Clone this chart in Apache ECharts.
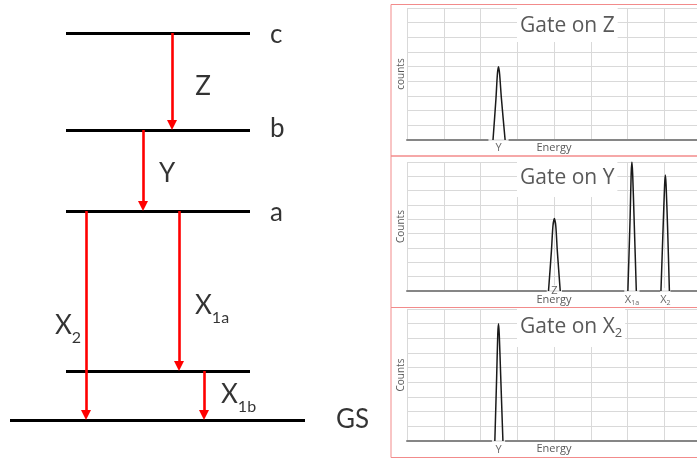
<!DOCTYPE html>
<html><head><meta charset="utf-8">
<script src="https://cdn.jsdelivr.net/npm/echarts@6/dist/echarts.min.js"></script>
<style>html,body{margin:0;padding:0;background:#fff}#c{width:697px;height:459px}</style>
</head><body><div id="c"></div>
<script>
// ---------------- DATA ----------------
// Level scheme (energies in arbitrary units)
const levelNames = ['GS', '', 'a', 'b', 'c'];
const levelEnergies = [0, 49, 209, 290, 387];
// Transitions (from level index -> to level index); name = [main, subscript]
const transitionNames = [['Z', ''], ['Y', ''], ['X', '1a'], ['X', '1b'], ['X', '2']];
const transitionFrom = [4, 3, 2, 1, 2];
const transitionTo = [3, 2, 1, 0, 0];

// Gated spectra
const gateTitles = [['Gate on Z', ''], ['Gate on Y', ''], ['Gate on X', '2']];
const countsNames = ['counts', 'Counts', 'Counts'];
const energyMin = 0, energyMax = 8, energyStep = 1;
const countsMin = 0, countsMax = 9, countsStep = 1;

const gateZ_peakY = [[2.34,0],[2.42,2.8],[2.46,4.5],[2.49,5.0],[2.52,4.5],[2.57,2.8],[2.67,0]];
const gateY_peakZ = [[3.85,0],[3.93,2.8],[3.97,4.5],[4.01,5.05],[4.05,4.5],[4.09,2.8],[4.17,0]];
const gateY_peakX1a = [[6.01,0],[6.07,5],[6.10,8.2],[6.12,9],[6.14,8.2],[6.18,5],[6.24,0]];
const gateY_peakX2 = [[6.91,0],[6.97,4.5],[7.01,7.4],[7.03,8.1],[7.05,7.4],[7.09,4.5],[7.14,0]];
const gateX2_peakY = [[2.39,0],[2.44,4.4],[2.47,7.3],[2.49,8],[2.51,7.3],[2.55,4.4],[2.61,0]];

const gateZ_labels = [['Y', '', 2.49]];
const gateY_labels = [['Z', '', 4.01], ['X', '1a', 6.12], ['X', '2', 7.03]];
const gateX2_labels = [['Y', '', 2.49]];

// ---------------- LAYOUT ----------------
const layout = {
  levelX: [[10, 305], [66, 250], [66, 250], [66, 250], [66, 250]],
  levelLabelX: [336, 0, 270, 270, 270],
  levelLabelDy: [0.4, 0, -1.5, 1, -1.5],
  transitionX: [172, 143, 179, 204, 86],
  transitionLabel: [[203, 87, 'center'], [167, 174, 'center'], [195, 306, 'left'], [221, 395, 'left'], [55, 326, 'left']],
  head: [9, 10],
  spectraGrids: [
    {left: 407, top: 8, width: 294, height: 132},
    {left: 407, top: 162, width: 294, height: 129},
    {left: 407, top: 309, width: 294, height: 132}
  ],
  titleBox: [
    {left: 517, top: 8, padding: [5, 3, 3, 3]},
    {left: 517, top: 162, padding: [3, 3, 6, 3]},
    {left: 517, top: 309, padding: [5, 3, 7, 3]}
  ],
  nameGap: [2, 3.5, 2.5],
  // peak label boxes: [dy, padTop, padSide]
  peakLabelStyle: [
    [[-3, 5, 7]],
    [[-6, 0, 4.5], [-3, 6, 0.5], [-3, 6, 0]],
    [[-3, 6, 3.5]]
  ],
  frames: [[391, 4.5, 320, 151.5], [391, 156, 320, 151.5], [391, 307.5, 320, 150]]
};

const LEFT_FONT = 'Lato';
const RIGHT_FONT = 'Open Sans';
const yPix = v => 420 - v; // left-diagram vertical units == pixels (grid mapped 1:1)
const richText = (main, sub) => '{m|' + main + '}' + (sub ? '{s|' + sub + '}' : '');

// ---------------- OPTION ----------------
const grids = [{left: 0, top: 0, width: 390, height: 459, outerBoundsMode: 'none'}]
  .concat(layout.spectraGrids.map(g => Object.assign({outerBoundsMode: 'none', containLabel: false}, g)));
const xAxes = [{gridIndex: 0, type: 'value', min: 0, max: 390, show: false}];
const yAxes = [{gridIndex: 0, type: 'value', min: -39, max: 420, show: false}];
const series = [];

// Levels
series.push({
  type: 'lines', coordinateSystem: 'cartesian2d', xAxisIndex: 0, yAxisIndex: 0,
  symbol: 'none', lineStyle: {color: '#000', width: 3, opacity: 1}, z: 2, silent: true,
  data: levelEnergies.map((E, i) => ({coords: [[layout.levelX[i][0], E], [layout.levelX[i][1], E]]}))
});
// Transitions
series.push({
  type: 'lines', coordinateSystem: 'cartesian2d', xAxisIndex: 0, yAxisIndex: 0,
  symbol: ['none', 'triangle'], symbolSize: layout.head,
  lineStyle: {color: '#ff0000', width: 2.6, opacity: 1}, z: 3, silent: true,
  data: transitionFrom.map((f, i) => ({coords: [[layout.transitionX[i], levelEnergies[f]], [layout.transitionX[i], levelEnergies[transitionTo[i]] + layout.head[1] / 2]]}))
});
// Level labels
series.push({
  type: 'scatter', xAxisIndex: 0, yAxisIndex: 0, symbolSize: 0, silent: true, z: 4,
  data: levelNames.map((n, i) => ({name: n, value: [layout.levelLabelX[i], levelEnergies[i] + layout.levelLabelDy[i]]})).filter(d => d.name),
  label: {show: true, position: 'inside', align: 'left', verticalAlign: 'middle', formatter: p => p.name,
    fontFamily: LEFT_FONT, fontSize: 26, color: '#000'}
});
// Transition labels
series.push({
  type: 'scatter', xAxisIndex: 0, yAxisIndex: 0, symbolSize: 0, silent: true, z: 4,
  data: transitionNames.map((n, i) => ({name: richText(n[0], n[1]), value: [layout.transitionLabel[i][0], yPix(layout.transitionLabel[i][1])],
    label: {align: layout.transitionLabel[i][2]}})),
  label: {show: true, position: 'inside', verticalAlign: 'middle', formatter: p => p.name,
    rich: {
      m: {fontFamily: LEFT_FONT, fontSize: 26, lineHeight: 40, color: '#000'},
      s: {fontFamily: LEFT_FONT, fontSize: 16, lineHeight: 16, verticalAlign: 'bottom', color: '#000'}
    }}
});

// Spectra
const peaksPerGate = [[gateZ_peakY], [gateY_peakZ, gateY_peakX1a, gateY_peakX2], [gateX2_peakY]];
const labelsPerGate = [gateZ_labels, gateY_labels, gateX2_labels];
const titles = [];
for (let g = 0; g < 3; g++) {
  const ai = g + 1;
  xAxes.push({
    gridIndex: ai, type: 'value', min: energyMin, max: energyMax, interval: energyStep,
    name: 'Energy', nameLocation: 'middle', nameGap: layout.nameGap[g],
    nameTextStyle: {fontFamily: RIGHT_FONT, fontSize: 11, color: '#595959'},
    axisLine: {show: true, onZero: false, lineStyle: {color: '#868686', width: 2}},
    axisTick: {show: false}, axisLabel: {show: false},
    splitLine: {show: true, lineStyle: {color: '#d9d9d9', width: 1}}
  });
  yAxes.push({
    gridIndex: ai, type: 'value', min: countsMin, max: countsMax, interval: countsStep,
    name: countsNames[g], nameLocation: 'middle', nameGap: 1,
    nameTextStyle: {fontFamily: RIGHT_FONT, fontSize: 10, color: '#595959'},
    axisLine: {show: false}, axisTick: {show: false}, axisLabel: {show: false},
    splitLine: {show: true, lineStyle: {color: '#d9d9d9', width: 1}}
  });
  peaksPerGate[g].forEach(pk => series.push({
    type: 'line', xAxisIndex: ai, yAxisIndex: ai, data: pk, symbol: 'none', silent: true,
    smooth: 0.25, lineStyle: {color: '#1a1a1a', width: 1.5}, z: 5
  }));
  series.push({
    type: 'scatter', xAxisIndex: ai, yAxisIndex: ai, symbolSize: 0, silent: true, z: 3,
    data: labelsPerGate[g].map((l, k) => {
      const st = layout.peakLabelStyle[g][k];
      return {name: richText(l[0], l[1]), value: [l[2], 0], label: {position: [0, st[0]], padding: [st[1], st[2], 0, st[2]]}};
    }),
    label: {show: true, align: 'center', verticalAlign: 'top', backgroundColor: '#fff',
      formatter: p => p.name,
      rich: {
        m: {fontFamily: RIGHT_FONT, fontSize: 11, lineHeight: 12, color: '#404040'},
        s: {fontFamily: RIGHT_FONT, fontSize: 7, lineHeight: 7, verticalAlign: 'bottom', color: '#404040'}
      }}
  });
  titles.push({
    text: richText(gateTitles[g][0], gateTitles[g][1]), left: layout.titleBox[g].left, top: layout.titleBox[g].top,
    padding: layout.titleBox[g].padding, backgroundColor: '#fff',
    textStyle: {fontFamily: RIGHT_FONT, fontSize: 21, fontWeight: 'normal', lineHeight: 26, color: '#595959',
      rich: {
        m: {fontFamily: RIGHT_FONT, fontSize: 21, lineHeight: 26, color: '#595959'},
        s: {fontFamily: RIGHT_FONT, fontSize: 13, lineHeight: 11, verticalAlign: 'bottom', color: '#595959'}
      }}
  });
}

const option = {
  backgroundColor: '#fff',
  animation: false,
  title: titles,
  grid: grids,
  xAxis: xAxes,
  yAxis: yAxes,
  series: series,
  graphic: layout.frames.map(f => ({
    type: 'rect', shape: {x: f[0], y: f[1], width: f[2], height: f[3]},
    style: {fill: 'none', stroke: '#f28b8b', lineWidth: 1}, z: 10, silent: true
  }))
};

const chart = echarts.init(document.getElementById('c'), null, {renderer: 'canvas'});
chart.setOption(option);
</script></body></html>
